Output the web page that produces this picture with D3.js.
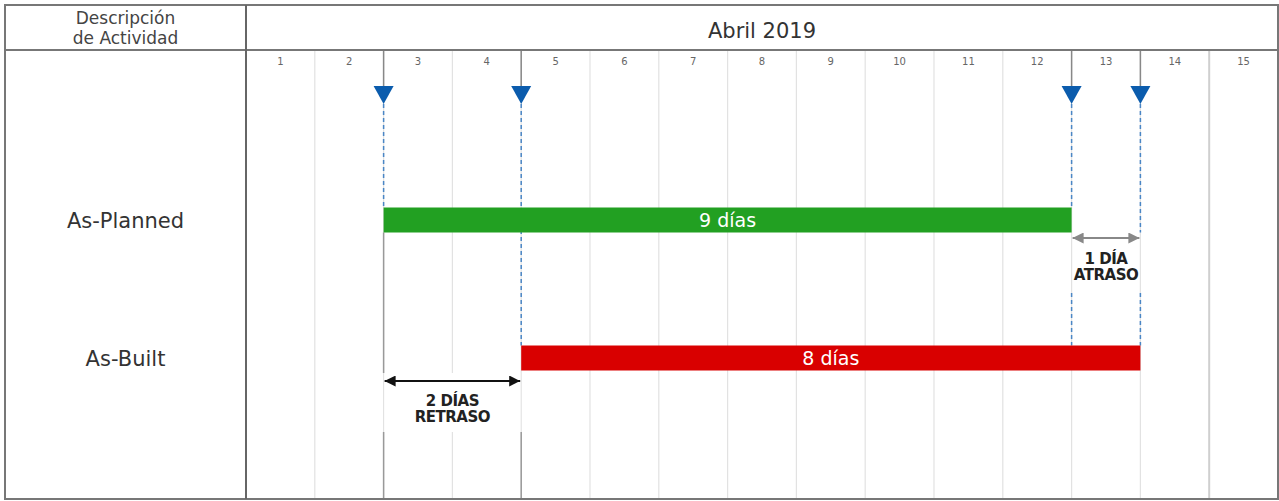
<!DOCTYPE html>
<html>
<head>
<meta charset="utf-8">
<script src="https://cdn.jsdelivr.net/npm/d3@7"></script>
<style>
  body { margin: 0; background: #fff; }
</style>
</head>
<body>
<div id="chart"></div>
<script>
// data
const days = [1, 2, 3, 4, 5, 6, 7, 8, 9, 10, 11, 12, 13, 14, 15];
const monthLabel = "Abril 2019";
const activities = ["As-Planned", "As-Built"];
const barStart = [2, 4];        // day boundary where bar starts
const barEnd = [12, 13];        // day boundary where bar ends
const barLabels = ["9 días", "8 días"];
const barColors = ["#22a022", "#d90000"];
const markers = [2, 4, 12, 13]; // day boundaries with blue triangles
const delayStart = ["2 DÍAS", "RETRASO"];
const delayEnd = ["1 DÍA", "ATRASO"];

const W = 1279, H = 501;
const tLeft = 5, tRight = 1278, tTop = 5, tBottom = 499, headerY = 50, divX = 246;

const svg = d3.select("#chart").append("svg")
    .attr("width", W).attr("height", H)
    .attr("font-family", "'DejaVu Sans', Verdana, sans-serif");

const x = d3.scaleLinear().domain([0, days.length]).range([divX, tRight]);
const y = d3.scalePoint().domain(activities).range([220, 358]);
const barH = 25;

// defs for arrowheads
const defs = svg.append("defs");
function arrowMarker(id, color) {
    defs.append("marker")
        .attr("id", id)
        .attr("viewBox", "0 0 10 10")
        .attr("refX", 10).attr("refY", 5)
        .attr("markerWidth", 11).attr("markerHeight", 11)
        .attr("markerUnits", "userSpaceOnUse")
        .attr("orient", "auto-start-reverse")
        .append("path")
        .attr("d", "M0,0 L10,5 L0,10 Z")
        .attr("fill", color);
}
arrowMarker("arrBlack", "#111");
arrowMarker("arrGray", "#888");

// grid lines between days
svg.append("g").selectAll("line")
    .data(d3.range(1, days.length))
    .join("line")
    .attr("x1", d => x(d)).attr("x2", d => x(d))
    .attr("y1", headerY).attr("y2", tBottom)
    .attr("stroke", d => d === 14 ? "#cfcfcf" : "#e2e2e2")
    .attr("stroke-width", d => d === 14 ? 2 : 1.2);

// day numbers
svg.append("g").selectAll("text")
    .data(days)
    .join("text")
    .attr("x", d => x(d - 0.5))
    .attr("y", 65)
    .attr("text-anchor", "middle")
    .attr("font-size", 10)
    .attr("fill", "#666")
    .text(d => d);

// header texts
svg.append("text")
    .attr("x", (tLeft + divX) / 2).attr("y", 24)
    .attr("text-anchor", "middle").attr("font-size", 17).attr("fill", "#444")
    .text("Descripción");
svg.append("text")
    .attr("x", (tLeft + divX) / 2).attr("y", 44)
    .attr("text-anchor", "middle").attr("font-size", 17).attr("fill", "#444")
    .text("de Actividad");
svg.append("text")
    .attr("x", (divX + tRight) / 2).attr("y", 38)
    .attr("text-anchor", "middle").attr("font-size", 21).attr("fill", "#333")
    .text(monthLabel);

// activity names
svg.append("g").selectAll("text")
    .data(activities)
    .join("text")
    .attr("x", (tLeft + divX) / 2)
    .attr("y", d => y(d) + 8)
    .attr("text-anchor", "middle")
    .attr("font-size", 21)
    .attr("fill", "#333")
    .text(d => d);

// marker lines: solid gray from header to triangle
const triTop = 86, triBot = 104;
svg.append("g").selectAll("line")
    .data(markers)
    .join("line")
    .attr("x1", d => x(d)).attr("x2", d => x(d))
    .attr("y1", headerY).attr("y2", triTop)
    .attr("stroke", "#888").attr("stroke-width", 1.5);

// white panel behind delay label
svg.append("rect")
    .attr("x", x(markers[0]) + 1).attr("y", 373)
    .attr("width", x(markers[1]) - x(markers[0]) - 2).attr("height", 59)
    .attr("fill", "#fff");

// dashed blue segments [boundary, y1, y2]
const yPlanTop = y("As-Planned") - barH / 2, yPlanBot = y("As-Planned") + barH / 2;
const yBuiltTop = y("As-Built") - barH / 2, yBuiltBot = y("As-Built") + barH / 2;
const dashSegs = [
    [markers[0], triBot, yPlanTop],
    [markers[1], triBot, yBuiltTop],
    [markers[2], triBot, yPlanTop],
    [markers[3], triBot, yPlanBot],
    [markers[2], 293, yBuiltTop],
    [markers[3], 293, yBuiltTop]
];
svg.append("g").selectAll("line")
    .data(dashSegs)
    .join("line")
    .attr("x1", d => x(d[0])).attr("x2", d => x(d[0]))
    .attr("y1", d => d[1]).attr("y2", d => d[2])
    .attr("stroke", "#4a86c5").attr("stroke-width", 1.5)
    .attr("stroke-dasharray", "4,3");

// solid gray segments
const graySegs = [
    [markers[0], yPlanBot, 373],
    [markers[0], 432, tBottom],
    [markers[1], 432, tBottom]
];
svg.append("g").selectAll("line")
    .data(graySegs)
    .join("line")
    .attr("x1", d => x(d[0])).attr("x2", d => x(d[0]))
    .attr("y1", d => d[1]).attr("y2", d => d[2])
    .attr("stroke", "#999").attr("stroke-width", 1.5);

// triangles
svg.append("g").selectAll("path")
    .data(markers)
    .join("path")
    .attr("d", d => `M${x(d) - 10},${triTop} L${x(d) + 10},${triTop} L${x(d)},${triBot} Z`)
    .attr("fill", "#0b5cad");

// bars
svg.append("g").selectAll("rect")
    .data(activities)
    .join("rect")
    .attr("x", (d, i) => x(barStart[i]))
    .attr("y", d => y(d) - barH / 2)
    .attr("width", (d, i) => x(barEnd[i]) - x(barStart[i]))
    .attr("height", barH)
    .attr("fill", (d, i) => barColors[i]);

svg.append("g").selectAll("text")
    .data(activities)
    .join("text")
    .attr("x", (d, i) => (x(barStart[i]) + x(barEnd[i])) / 2)
    .attr("y", d => y(d) + 7)
    .attr("text-anchor", "middle")
    .attr("font-size", 19)
    .attr("fill", "#fff")
    .text((d, i) => barLabels[i]);

// delay arrows
svg.append("line")
    .attr("x1", x(markers[0]) + 1).attr("x2", x(markers[1]) - 1)
    .attr("y1", 381).attr("y2", 381)
    .attr("stroke", "#111").attr("stroke-width", 2)
    .attr("marker-start", "url(#arrBlack)")
    .attr("marker-end", "url(#arrBlack)");
svg.append("g").selectAll("text")
    .data(delayStart)
    .join("text")
    .attr("x", (x(markers[0]) + x(markers[1])) / 2)
    .attr("y", (d, i) => 406 + i * 16)
    .attr("text-anchor", "middle")
    .attr("font-size", 15)
    .attr("font-weight", "bold")
    .attr("fill", "#222")
    .attr("letter-spacing", -0.5)
    .text(d => d);

svg.append("line")
    .attr("x1", x(markers[2]) + 1).attr("x2", x(markers[3]) - 1)
    .attr("y1", 238).attr("y2", 238)
    .attr("stroke", "#888").attr("stroke-width", 2)
    .attr("marker-start", "url(#arrGray)")
    .attr("marker-end", "url(#arrGray)");
svg.append("g").selectAll("text")
    .data(delayEnd)
    .join("text")
    .attr("x", (x(markers[2]) + x(markers[3])) / 2)
    .attr("y", (d, i) => 264 + i * 16)
    .attr("text-anchor", "middle")
    .attr("font-size", 15)
    .attr("font-weight", "bold")
    .attr("fill", "#222")
    .attr("letter-spacing", -0.5)
    .text(d => d);

// table borders
svg.append("rect")
    .attr("x", tLeft).attr("y", tTop)
    .attr("width", tRight - tLeft).attr("height", tBottom - tTop)
    .attr("fill", "none").attr("stroke", "#777").attr("stroke-width", 2);
svg.append("line")
    .attr("x1", tLeft).attr("x2", tRight).attr("y1", headerY).attr("y2", headerY)
    .attr("stroke", "#777").attr("stroke-width", 2);
svg.append("line")
    .attr("x1", divX).attr("x2", divX).attr("y1", tTop).attr("y2", tBottom)
    .attr("stroke", "#666").attr("stroke-width", 2);
</script>
</body>
</html>
